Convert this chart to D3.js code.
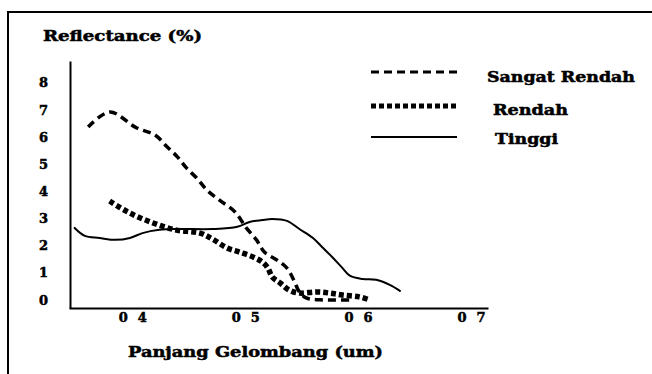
<!DOCTYPE html>
<html>
<head>
<meta charset="utf-8">
<script src="https://cdn.jsdelivr.net/npm/d3@7"></script>
<style>
  body { margin: 0; background: #fff; }
  text { font-family: "DejaVu Serif", serif; font-weight: bold; fill: #000; stroke: #000; stroke-width: 0.5px; }
</style>
</head>
<body>
<script>
// data (x = wavelength um, y = reflectance %)
var sangatX = [0.361, 0.380, 0.404, 0.420, 0.431, 0.440, 0.448, 0.457, 0.466, 0.477, 0.491, 0.501, 0.510, 0.517, 0.528, 0.537, 0.543, 0.548, 0.554, 0.566, 0.594];
var sangatY = [6.37, 6.92, 6.33, 6.08, 5.63, 5.27, 4.86, 4.49, 4.05, 3.68, 3.24, 2.65, 2.21, 1.76, 1.47, 1.17, 0.73, 0.29, 0.07, 0.0, 0.0];

var rendahX = [0.380, 0.396, 0.416, 0.438, 0.460, 0.471, 0.484, 0.495, 0.507, 0.515, 0.520, 0.524, 0.531, 0.539, 0.548, 0.563, 0.575, 0.586, 0.601, 0.610];
var rendahY = [3.64, 3.24, 2.87, 2.58, 2.46, 2.24, 1.91, 1.76, 1.58, 1.40, 1.18, 0.84, 0.62, 0.36, 0.25, 0.29, 0.25, 0.18, 0.11, 0.0];

var tinggiX = [0.349, 0.358, 0.371, 0.385, 0.398, 0.409, 0.424, 0.442, 0.471, 0.493, 0.504, 0.515, 0.524, 0.537, 0.548, 0.560, 0.569, 0.577, 0.586, 0.593, 0.604, 0.616, 0.628, 0.637];
var tinggiY = [2.65, 2.36, 2.28, 2.21, 2.28, 2.46, 2.58, 2.61, 2.61, 2.69, 2.87, 2.94, 2.98, 2.91, 2.61, 2.28, 1.91, 1.58, 1.18, 0.88, 0.77, 0.74, 0.55, 0.33];

var yTicks = [0, 1, 2, 3, 4, 5, 6, 7, 8];
var xTicks = [0.4, 0.5, 0.6, 0.7];
var xTickLabels = ["0 4", "0 5", "0 6", "0 7"];
var seriesNames = ["Sangat Rendah", "Rendah", "Tinggi"];

var screen = { width: 652, height: 374 };

var svg = d3.select('body')
            .append('svg')
            .attr('width', screen.width)
            .attr('height', screen.height);

// page frame (runs off right and bottom like the scan)
svg.append('rect')
   .attr('x', 8).attr('y', 12)
   .attr('width', 700).attr('height', 420)
   .attr('fill', 'none')
   .attr('stroke', '#000')
   .attr('stroke-width', 2);

var xScale = d3.scaleLinear().domain([0.344, 0.715]).range([69, 488]);
var yScale = d3.scaleLinear().domain([-0.3, 8.8]).range([308, 61]);

var yAxis = d3.axisLeft(yScale)
              .tickValues(yTicks)
              .tickSize(0)
              .tickPadding(22)
              .tickFormat(d3.format('d'));

var xAxis = d3.axisBottom(xScale)
              .tickValues(xTicks)
              .tickSize(0)
              .tickPadding(5)
              .tickFormat(function(d, i){ return xTickLabels[i]; });

var gy = svg.append('g').attr('transform', 'translate(70,0)').call(yAxis);
var gx = svg.append('g').attr('transform', 'translate(0,308)').call(xAxis);

[gx, gy].forEach(function(g){
  g.select('.domain').attr('stroke', '#000').attr('stroke-width', 2);
  g.selectAll('text')
   .style('font-family', '"DejaVu Serif", serif')
   .style('font-weight', 'bold')
   .attr('font-size', 13)
   .attr('fill', '#000');
});
gx.selectAll('text').attr('textLength', 28).attr('lengthAdjust', 'spacing');

// titles
svg.append('text')
   .attr('x', 43).attr('y', 41)
   .attr('font-size', 15)
   .attr('textLength', 159).attr('lengthAdjust', 'spacingAndGlyphs')
   .text('Reflectance (%)');

svg.append('text')
   .attr('x', 128).attr('y', 357)
   .attr('font-size', 15)
   .attr('textLength', 255).attr('lengthAdjust', 'spacingAndGlyphs')
   .text('Panjang Gelombang (um)');

var line = d3.line()
             .x(function(d){ return xScale(d[0]); })
             .y(function(d){ return yScale(d[1]); })
             .curve(d3.curveCatmullRom);

var styles = [
  { dash: '8,5', width: 3.5, cap: 'butt' },
  { dash: '5,3', width: 5.5, cap: 'butt' },
  { dash: null, width: 2, cap: 'round' }
];

var series = [
  d3.zip(sangatX, sangatY),
  d3.zip(rendahX, rendahY),
  d3.zip(tinggiX, tinggiY)
];

series.forEach(function(pts, i){
  svg.append('path')
     .attr('d', line(pts))
     .attr('fill', 'none')
     .attr('stroke', '#000')
     .attr('stroke-width', styles[i].width)
     .attr('stroke-linecap', styles[i].cap)
     .attr('stroke-linejoin', 'round')
     .attr('stroke-dasharray', styles[i].dash);
});

// legend
var legendY = [72, 106, 137];
var legendTextY = [82, 115, 144];
var legendTextX = [487, 493, 495];
var legendTextW = [148, 75, 63];

seriesNames.forEach(function(name, i){
  svg.append('line')
     .attr('x1', 371).attr('x2', 457)
     .attr('y1', legendY[i]).attr('y2', legendY[i])
     .attr('stroke', '#000')
     .attr('stroke-width', i === 1 ? 5 : (i === 0 ? 3 : 2))
     .attr('stroke-dasharray', i === 2 ? null : (i === 0 ? '8,5' : '5,3'));
  svg.append('text')
     .attr('x', legendTextX[i]).attr('y', legendTextY[i])
     .attr('font-size', 14)
     .attr('textLength', legendTextW[i]).attr('lengthAdjust', 'spacingAndGlyphs')
     .text(name);
});
</script>
</body>
</html>
